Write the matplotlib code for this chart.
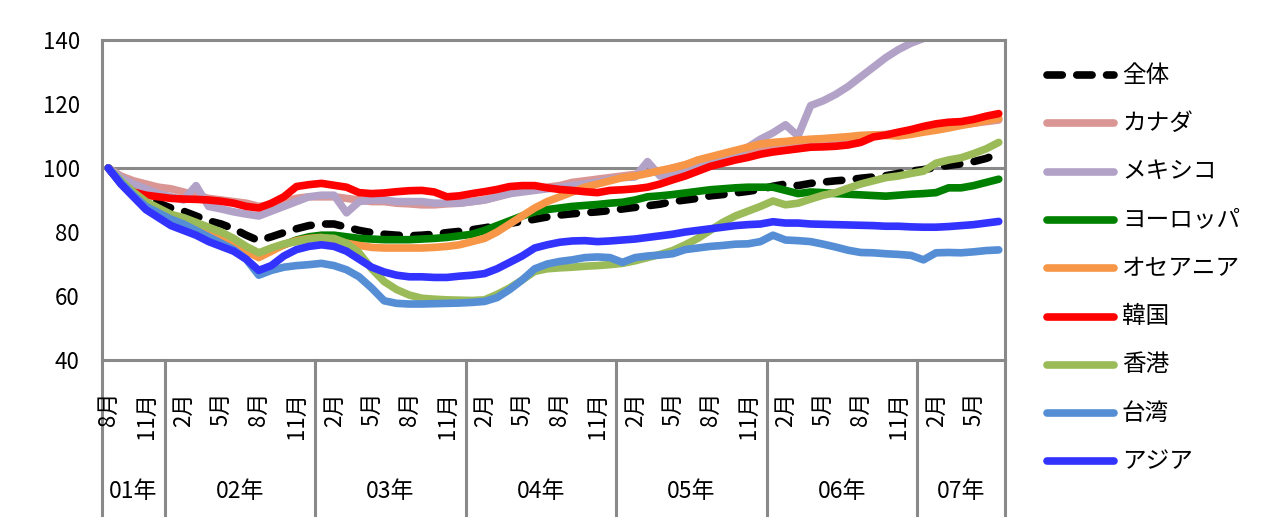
import matplotlib
matplotlib.use("Agg")
import matplotlib.pyplot as plt
from matplotlib.lines import Line2D
import numpy as np

plt.rcParams['font.family'] = ['Noto Sans CJK JP', 'DejaVu Sans']

# monthly index, Aug 2001 - Jul 2007
years = ['01年', '02年', '03年', '04年', '05年', '06年', '07年']
year_months = [5, 12, 12, 12, 12, 12, 7]
first_month = 8
label_months = [2, 5, 8, 11]

zentai = [100, 97, 94, 90.5, 89, 87.5, 86.5, 85, 83.5, 82.5,
          81, 79, 77.3, 78.5, 79.8, 81, 82, 82.5, 82.5, 81.5,
          80.5, 79.8, 79.3, 79, 78.8, 79, 79.3, 79.8, 80.2, 80.7,
          81.3, 82, 82.7, 83.3, 84, 84.7, 85.3, 85.7, 86, 86.3,
          86.7, 87.2, 87.7, 88.2, 88.7, 89.5, 90, 90.5, 91.3, 91.7,
          92.2, 92.7, 93.3, 94.3, 95, 94.5, 95.2, 95.6, 96, 96.3,
          96.8, 97.2, 97.6, 98.3, 99, 99.5, 100.2, 100.8, 101.3, 102,
          103, 104.5]
canada = [100, 97.5, 96, 95, 94, 93.5, 92.5, 91.5, 90.5, 90,
          89.5, 89, 88, 88.5, 89.5, 90.5, 91, 91, 91, 90.5,
          90, 89.5, 89.5, 89, 88.8, 88.5, 88.5, 88.8, 89, 89.5,
          90, 91, 92, 93, 93.5, 94, 94.5, 95.5, 96, 96.5,
          97, 97.5, 98, 98.5, 99, 100, 101, 102, 103, 103.5,
          104.5, 105.5, 106, 106.5, 107, 107.5, 108, 108.5, 109, 109.5,
          110, 110.3, 110.5, 111, 111.5, 112, 112.5, 113, 113.5, 114,
          114.5, 115]
mexico = [100, 97, 95, 93.5, 92, 91, 90, 94.5, 88, 87.2,
          86.3, 85.6, 85, 86.5, 88, 89.5, 91, 91.5, 91.5, 86,
          89.5, 90, 90, 89.5, 89.5, 89.5, 89, 89, 89, 89.5,
          90, 91, 92, 92.5, 93, 93.5, 94, 94.5, 95, 95.6,
          96.5, 97, 97.2, 102, 97.5, 98.5, 99.5, 100.5, 101.5, 103,
          104, 106.5, 109, 111, 113.5, 110, 119.5, 121, 123, 125.5,
          128.5, 131.5, 134.5, 137, 139, 140.5, 142, 143.5, 145, 146,
          147, 148]
europe = [100, 95.5, 92, 89, 87, 85, 83.5, 82, 80.5, 79,
          77, 75, 72.5, 74.5, 76, 77.5, 78.5, 79, 79, 78.5,
          78, 77.8, 77.6, 77.6, 77.6, 77.8, 78, 78.3, 78.8, 79.3,
          80.5, 82, 83.5, 85, 86.3, 87, 87.5, 88, 88.3, 88.6,
          89, 89.3, 90, 91, 91.3, 91.7, 92.2, 92.7, 93.2, 93.5,
          93.8, 94, 94, 94, 93, 92, 92.5, 92.3, 92, 91.8,
          91.6, 91.4, 91.2, 91.5, 91.8, 92, 92.3, 93.8, 93.8, 94.5,
          95.5, 96.5]
oceania = [100, 95.5, 91.5, 88.5, 86.5, 84.5, 83, 81.5, 79.5, 78,
           76, 74, 72, 74, 76, 77.3, 78, 78.3, 77.5, 76.5,
           75.8, 75.2, 75, 75, 75, 75, 75.2, 75.5, 76, 77,
           78, 80, 82.5, 85, 87.5, 89.5, 91, 92.5, 94, 95,
           96, 97, 97.5, 98.3, 99.2, 100, 101, 102.5, 103.5, 104.5,
           105.5, 106.5, 107.5, 108, 108.3, 108.7, 109, 109.2, 109.5, 109.8,
           110.2, 110.3, 110.2, 110, 110.5, 111.2, 111.8, 112.5, 113.3, 114,
           114.8, 115.5]
korea = [100, 95.5, 92.5, 91.5, 91, 90.5, 90.3, 90.2, 90, 89.6,
         89, 88, 87.5, 89, 91, 94.2, 94.8, 95.2, 94.6, 94,
         92.3, 92, 92.2, 92.6, 92.9, 93, 92.5, 91, 91.3, 92,
         92.6, 93.3, 94.2, 94.5, 94.5, 93.8, 93.3, 93, 92.6, 92.3,
         93, 93.2, 93.5, 94, 95, 96.3, 97.5, 99, 100.5, 101.5,
         102.5, 103.3, 104.3, 105, 105.5, 106, 106.5, 106.6, 106.8, 107.2,
         108, 109.7, 110.3, 111.2, 112, 113, 113.8, 114.3, 114.5, 115.2,
         116.2, 117]
hongkong = [100, 96, 92.5, 89.5, 87.5, 85.5, 84.5, 83, 81.5, 80,
            78, 75.5, 73.5, 75, 76.3, 77, 77.8, 78.2, 78, 76.5,
            73.5, 68.5, 64.5, 62, 60.3, 59.3, 59, 58.8, 58.7, 58.6,
            58.8, 60.5, 62.5, 65, 67.7, 68.5, 68.8, 69, 69.3, 69.5,
            69.8, 70.2, 71, 72, 73, 74.2, 76, 78, 80.5, 83,
            85, 86.5, 88, 89.7, 88.5, 89, 90.3, 91.5, 92.3, 93.7,
            95, 96, 97, 97.5, 98.3, 99, 101.5, 102.5, 103.2, 104.5,
            106, 108]
taiwan = [100, 95.5, 91.5, 88, 86, 84, 82.5, 80.5, 78.5, 76.5,
          74.5, 71.5, 66.5, 68, 69, 69.5, 69.8, 70.2, 69.5, 68.2,
          66, 62.5, 58.5, 57.7, 57.5, 57.5, 57.6, 57.7, 57.8, 58,
          58.3, 59.5, 62, 65, 68.5, 70, 70.8, 71.3, 72, 72.2,
          72, 70.5, 72, 72.5, 72.8, 73.2, 74.5, 75, 75.5, 75.8,
          76.2, 76.3, 77, 79, 77.5, 77.3, 77, 76.2, 75.3, 74.3,
          73.6, 73.5, 73.2, 73, 72.7, 71.3, 73.5, 73.6, 73.5, 73.8,
          74.2, 74.4]
asia = [100, 95, 91, 87, 84.5, 82, 80.5, 79, 77, 75.5,
        74, 71.5, 68, 69.5, 72.5, 74.5, 75.5, 76, 75.5, 74,
        71.5, 69, 67.5, 66.5, 66, 66, 65.8, 65.8, 66.2, 66.5,
        67, 68.5, 70.5, 72.5, 75, 76, 76.8, 77.2, 77.3, 77,
        77.2, 77.5, 77.8, 78.3, 78.8, 79.3, 80, 80.5, 81, 81.5,
        82, 82.3, 82.5, 83.2, 82.8, 82.8, 82.5, 82.4, 82.3, 82.2,
        82.1, 82, 81.8, 81.8, 81.6, 81.5, 81.5, 81.7, 82, 82.3,
        82.8, 83.3]

series = [
    ('全体', zentai, 'black'),
    ('カナダ', canada, '#D99694'),
    ('メキシコ', mexico, '#B3A2C7'),
    ('ヨーロッパ', europe, '#008000'),
    ('オセアニア', oceania, '#F79646'),
    ('韓国', korea, '#FF0000'),
    ('香港', hongkong, '#9BBB59'),
    ('台湾', taiwan, '#558ED5'),
    ('アジア', asia, '#3333FF'),
]

GRAY = '#898989'
LW = 5.5
DASH = (0, (2.0, 1.9))
FS = 16

fig = plt.figure(figsize=(12.61, 5.24), dpi=100)
ax = fig.add_axes([102 / 1261, 164 / 524, 903 / 1261, 320 / 524])

n = sum(year_months)
x = np.arange(n)

for name, vals, col in series:
    if name == '全体':
        ax.plot(x, vals, color=col, lw=LW, linestyle=DASH,
                dash_capstyle='round', solid_joinstyle='round')
    else:
        ax.plot(x, vals, color=col, lw=LW, solid_capstyle='round',
                solid_joinstyle='round')

ax.axhline(100, color=GRAY, lw=2.2, zorder=0)
ax.set_xlim(-0.5, n - 0.5)
ax.set_ylim(40, 140)
ax.set_yticks(range(40, 141, 20))
ax.set_xticks([])
ax.tick_params(axis='y', length=0, pad=16, labelsize=FS)
for sp in ax.spines.values():
    sp.set_color(GRAY)
    sp.set_linewidth(2.2)

# month labels and year groups under the axis
bounds = np.concatenate([[0], np.cumsum(year_months)]) - 0.5
m = first_month
for i in range(n):
    if m in label_months:
        ax.text(i, -0.1, f'{m}月', transform=ax.get_xaxis_transform(),
                rotation=90, ha='center', va='top', fontsize=FS)
    m = m % 12 + 1
for b in bounds:
    ax.plot([b, b], [0, -0.484], transform=ax.get_xaxis_transform(),
            color=GRAY, lw=2.2, clip_on=False)
for k, yr in enumerate(years):
    ax.text((bounds[k] + bounds[k + 1]) / 2, -0.4125, yr,
            transform=ax.get_xaxis_transform(), ha='center', va='center',
            fontsize=FS + 0.5)

# legend on the right
for k, (name, vals, col) in enumerate(series):
    y = 1 - (75 + 48.3 * k) / 524
    kw = dict(color=col, lw=LW, transform=fig.transFigure)
    if name == '全体':
        ln = Line2D([1047 / 1261, 1114 / 1261], [y, y], linestyle=DASH,
                    dash_capstyle='round', **kw)
    else:
        ln = Line2D([1047 / 1261, 1114 / 1261], [y, y],
                    solid_capstyle='round', **kw)
    fig.add_artist(ln)
    fig.text(1122 / 1261, y, name, va='center', ha='left', fontsize=17)

fig.savefig('out.png', dpi=100)
